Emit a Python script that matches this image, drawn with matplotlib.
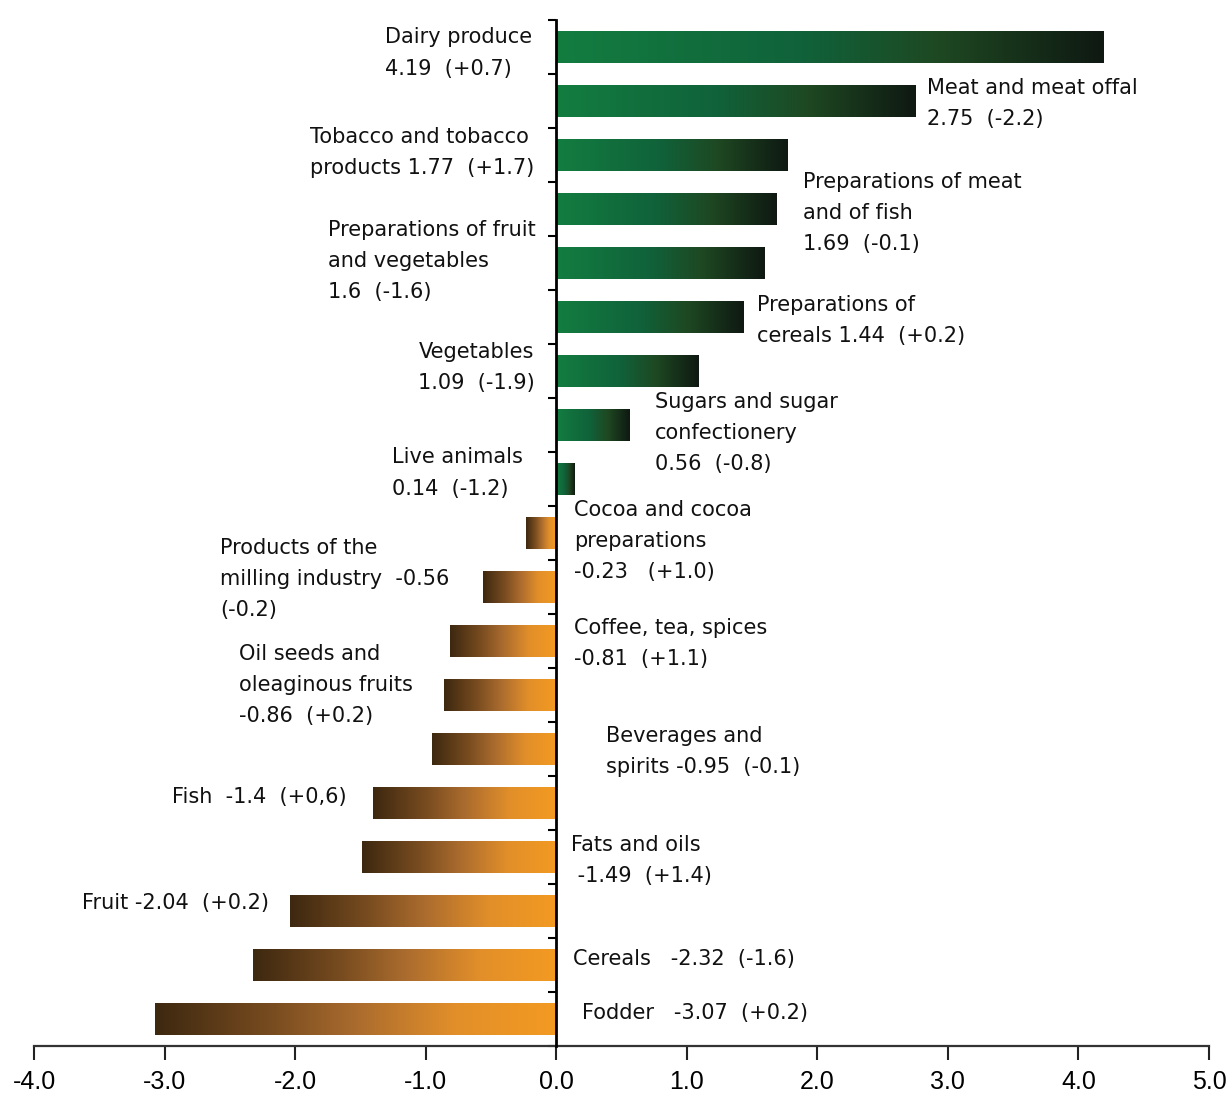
import numpy as np
import matplotlib
matplotlib.use("Agg")
import matplotlib.pyplot as plt
from matplotlib.colors import LinearSegmentedColormap
from matplotlib.patches import Rectangle

# Product groups, top to bottom
labels = [
    "Dairy produce\n4.19  (+0.7)",
    "Meat and meat offal\n2.75  (-2.2)",
    "Tobacco and tobacco\nproducts 1.77  (+1.7)",
    "Preparations of meat\nand of fish\n1.69  (-0.1)",
    "Preparations of fruit\nand vegetables\n1.6  (-1.6)",
    "Preparations of\ncereals 1.44  (+0.2)",
    "Vegetables\n1.09  (-1.9)",
    "Sugars and sugar\nconfectionery\n0.56  (-0.8)",
    "Live animals\n0.14  (-1.2)",
    "Cocoa and cocoa\npreparations\n-0.23   (+1.0)",
    "Products of the\nmilling industry  -0.56\n(-0.2)",
    "Coffee, tea, spices\n-0.81  (+1.1)",
    "Oil seeds and\noleaginous fruits\n-0.86  (+0.2)",
    "Beverages and\nspirits -0.95  (-0.1)",
    "Fish  -1.4  (+0,6)",
    "Fats and oils\n -1.49  (+1.4)",
    "Fruit -2.04  (+0.2)",
    "Cereals   -2.32  (-1.6)",
    "Fodder   -3.07  (+0.2)",
]
values = [4.19, 2.75, 1.77, 1.69, 1.6, 1.44, 1.09, 0.56, 0.14,
          -0.23, -0.56, -0.81, -0.86, -0.95, -1.4, -1.49, -2.04, -2.32, -3.07]
x_ticks = [-4.0, -3.0, -2.0, -1.0, 0.0, 1.0, 2.0, 3.0, 4.0, 5.0]

# Label placement: (left edge in x units, vertical centre in row units)
label_pos = [
    (-1.315, 0.11), (2.84, 1.04), (-1.885, 1.96), (1.89, 3.07), (-1.75, 3.96),
    (1.54, 5.07), (-1.055, 5.94), (0.755, 7.15), (-1.255, 7.89), (0.14, 9.15),
    (-2.575, 9.85), (0.14, 11.04), (-2.43, 11.815), (0.385, 13.04), (-2.94, 13.89),
    (0.11, 15.07), (-3.63, 15.85), (0.125, 16.89), (0.2, 17.89),
]

green = LinearSegmentedColormap.from_list(
    "grn", [(0.0, "#137d40"), (0.45, "#10623a"), (0.7, "#1e4822"), (1.0, "#0f1912")])
orange = LinearSegmentedColormap.from_list(
    "org", [(0.0, "#f39a22"), (0.25, "#e28f2a"), (0.5, "#aa6b2e"),
            (0.7, "#7a4d20"), (1.0, "#3d2810")])

fig = plt.figure(figsize=(12.29, 10.93), dpi=100)
ax = fig.add_axes([34 / 1229, 47 / 1093, 1175 / 1229, 1026 / 1093])

n = len(values)
rows = np.arange(n)
bar_h = 0.6
bars = ax.barh(rows, values, height=bar_h, color="none", edgecolor="none")

grad = np.linspace(0, 1, 256).reshape(1, -1)
for bar, v in zip(bars, values):
    cmap = green if v >= 0 else orange
    x0, y0 = bar.get_x(), bar.get_y()
    w, h = bar.get_width(), bar.get_height()
    img = grad if v >= 0 else grad[:, ::-1]
    left, right = min(0, v), max(0, v)
    im = ax.imshow(img, cmap=cmap, aspect="auto",
                   extent=[left, right, y0 + h, y0], interpolation="bicubic",
                   zorder=2)
    clip = Rectangle((x0, y0), w, h, transform=ax.transData)
    im.set_clip_path(clip)

for txt, (lx, ly) in zip(labels, label_pos):
    ax.text(lx, ly, txt, ha="left", va="center", fontsize=15,
            family="DejaVu Sans", linespacing=1.70, color="#111111", zorder=3)

ax.set_xlim(-4.0, 5.0)
ax.set_ylim(n - 0.5, -0.5)

ax.spines["top"].set_visible(False)
ax.spines["right"].set_visible(False)
ax.spines["left"].set_position(("data", 0))
ax.spines["left"].set_linewidth(2.0)
ax.spines["left"].set_color("black")
ax.spines["left"].set_zorder(4)
ax.spines["bottom"].set_linewidth(1.6)
ax.spines["bottom"].set_color("#333333")

ax.set_xticks(x_ticks)
ax.set_xticklabels([f"{t:.1f}" for t in x_ticks], family="Liberation Sans", fontsize=18)
ax.tick_params(axis="x", direction="out", length=10, width=1.5, pad=7, colors="#222222",
               labelcolor="black")
ax.set_yticks(np.arange(-0.5, n, 1.0))
ax.set_yticklabels([])
ax.tick_params(axis="y", direction="out", length=6, width=1.5, colors="black")

fig.savefig("out.png", dpi=100, facecolor="white")
